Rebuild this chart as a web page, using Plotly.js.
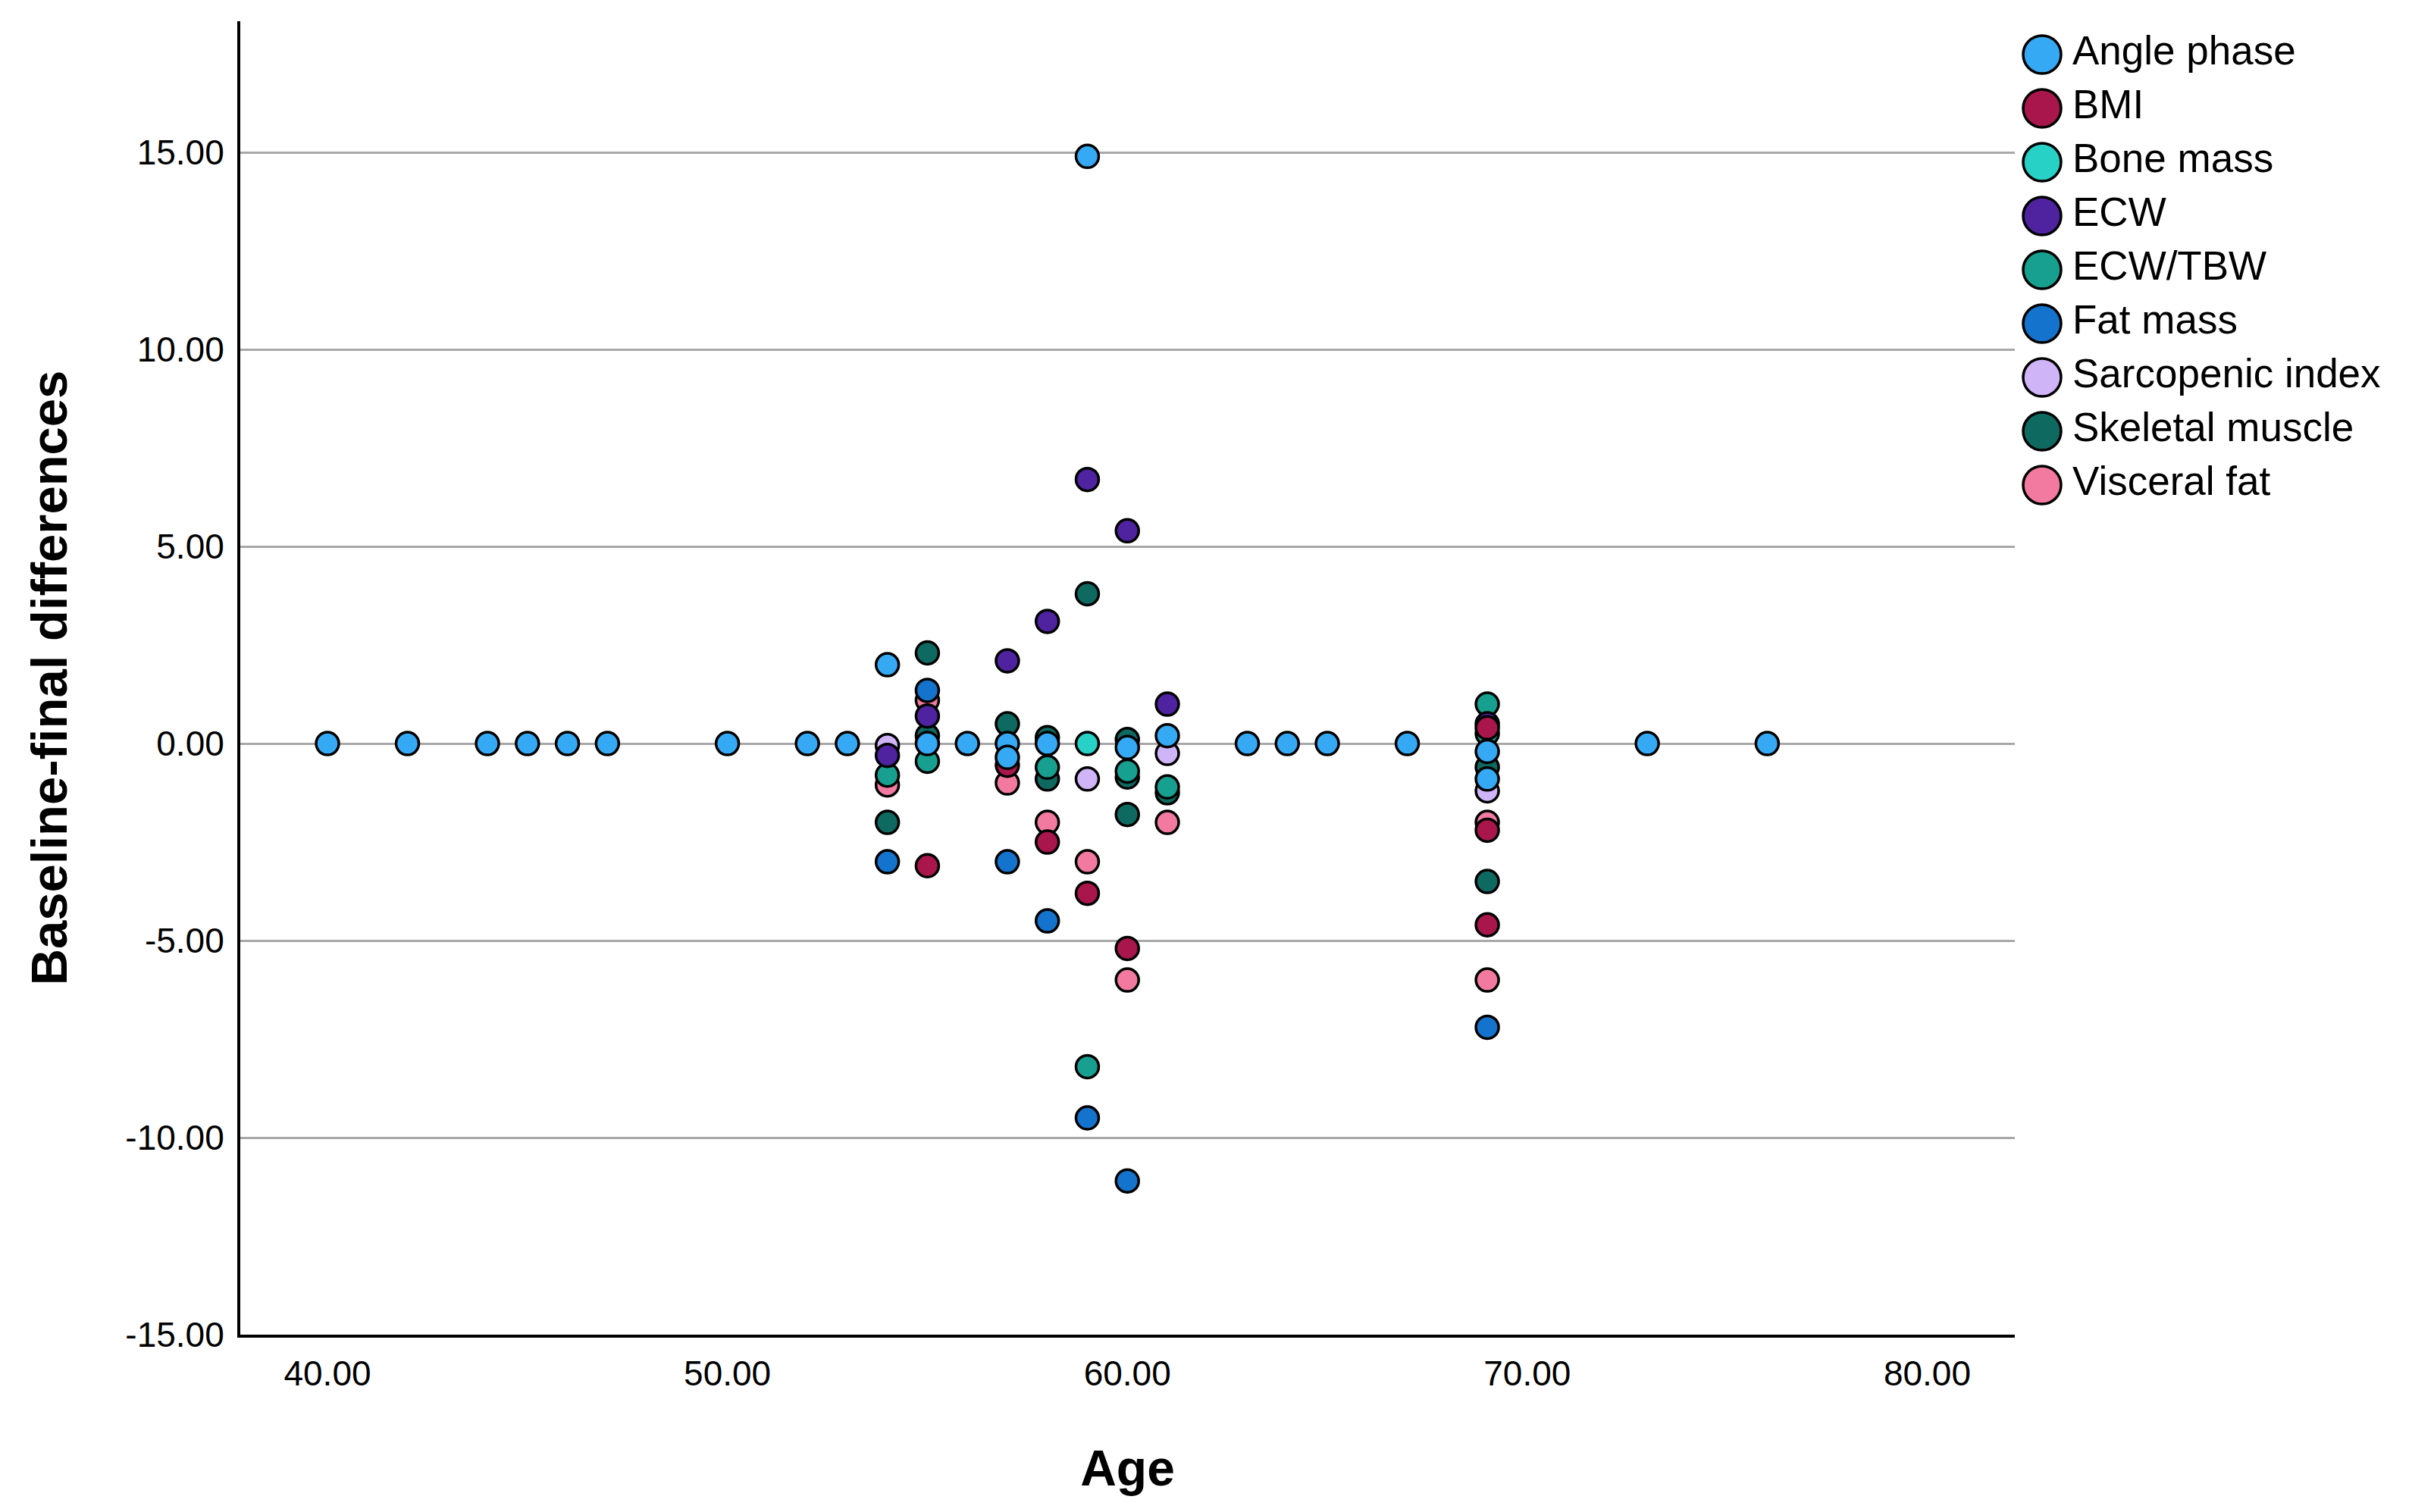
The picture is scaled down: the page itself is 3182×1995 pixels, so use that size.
<!DOCTYPE html>
<html>
<head>
<meta charset="utf-8">
<script src="https://cdn.plot.ly/plotly-3.0.1.min.js"></script>
<style>
html,body{margin:0;padding:0;background:#ffffff;}
#chart{width:3182px;height:1995px;}
</style>
</head>
<body>
<div id="chart"></div>
<script>
// ---------------- DATA ----------------
const categories = ['Angle phase','BMI','Bone mass','ECW','ECW/TBW','Fat mass','Sarcopenic index','Skeletal muscle','Visceral fat'];

const anglePhaseAge  = [40,42,44,45,46,47,50,52,53,54,55,56,57,57,58,59,60,61,63,64,65,67,69,69,73,76];
const anglePhaseDiff = [0,0,0,0,0,0,0,0,0,2.0,0,0,0,-0.35,0,14.9,-0.1,0.2,0,0,0,0,-0.2,-0.9,0,0];

const bmiAge  = [55,57,58,59,60,69,69,69];
const bmiDiff = [-3.1,-0.55,-2.5,-3.8,-5.2,0.4,-2.2,-4.6];

const boneMassAge  = [59];
const boneMassDiff = [0];

const ecwAge  = [54,55,57,58,59,60,61,69];
const ecwDiff = [-0.3,0.7,2.1,3.1,6.7,5.4,1.0,0.5];

const ecwTbwAge  = [54,55,58,59,60,61,69,69];
const ecwTbwDiff = [-0.8,-0.45,-0.6,-8.2,-0.7,-1.1,1.0,0.25];

const fatMassAge  = [54,55,57,58,59,60,69];
const fatMassDiff = [-3.0,1.35,-3.0,-4.5,-9.5,-11.1,-7.2];

const sarcopenicAge  = [54,59,61,69];
const sarcopenicDiff = [-0.05,-0.9,-0.25,-1.2];

const skeletalAge  = [54,55,55,57,58,58,59,60,60,60,61,69,69];
const skeletalDiff = [-2.0,2.3,0.2,0.5,0.15,-0.9,3.8,0.1,-0.85,-1.8,-1.25,-0.6,-3.5];

const visceralAge  = [54,55,57,58,59,60,61,69,69];
const visceralDiff = [-1.05,1.1,-1.0,-2.0,-3.0,-6.0,-2.0,-2.0,-6.0];

const xTickVals = [40,50,60,70,80];
const xTickText = ['40.00','50.00','60.00','70.00','80.00'];
const yTickVals = [-15,-10,-5,0,5,10,15];
const yTickText = ['-15.00','-10.00','-5.00','0.00','5.00','10.00','15.00'];

// ---------------- STYLE ----------------
const colors = {
  'Angle phase':'#36A9F4',
  'BMI':'#A8164C',
  'Bone mass':'#27D1C6',
  'ECW':'#4F22A0',
  'ECW/TBW':'#17A08F',
  'Fat mass':'#1473CC',
  'Sarcopenic index':'#CFB4F7',
  'Skeletal muscle':'#0E6A60',
  'Visceral fat':'#F27AA0'
};

const seriesData = [
  ['Angle phase', anglePhaseAge, anglePhaseDiff],
  ['BMI', bmiAge, bmiDiff],
  ['Bone mass', boneMassAge, boneMassDiff],
  ['ECW', ecwAge, ecwDiff],
  ['ECW/TBW', ecwTbwAge, ecwTbwDiff],
  ['Fat mass', fatMassAge, fatMassDiff],
  ['Sarcopenic index', sarcopenicAge, sarcopenicDiff],
  ['Skeletal muscle', skeletalAge, skeletalDiff],
  ['Visceral fat', visceralAge, visceralDiff]
];

const FONT = 'Liberation Sans, Arial, Helvetica, sans-serif';
const traces = [];
// first legend entry drawn on top -> add in reverse order
seriesData.slice().reverse().forEach(([name, xs, ys]) => {
  traces.push({
    type:'scatter', mode:'markers', name:name, x:xs, y:ys,
    xaxis:'x', yaxis:'y',
    marker:{size:30, color:colors[name], line:{color:'#000000', width:3.5}},
    hoverinfo:'skip', showlegend:false
  });
});

// custom legend drawn on a hidden secondary axis pair
traces.push({
  type:'scatter', mode:'markers', x:categories.map(() => 0), y:categories,
  xaxis:'x2', yaxis:'y2', cliponaxis:false,
  marker:{size:50, color:categories.map(c => colors[c]), line:{color:'#000000', width:3.5}},
  hoverinfo:'skip', showlegend:false
});
traces.push({
  type:'scatter', mode:'text', x:categories.map(() => 40), y:categories,
  text:categories, textposition:'middle right',
  textfont:{family:FONT, size:53, color:'#000000'},
  xaxis:'x2', yaxis:'y2', cliponaxis:false,
  hoverinfo:'skip', showlegend:false
});

const W = 3182, H = 1995;
const L = 317, T = 28, B = 234;
const plotRight = 2658;
const paperW = W - L;
const mainDomainEnd = (plotRight - L) / paperW;
const legDomainStart = (2662 - L) / paperW;
const legRowTop = 72, legRowStep = 71;

const layout = {
  width:W, height:H,
  margin:{l:L, r:0, t:T, b:B, pad:0},
  paper_bgcolor:'#ffffff', plot_bgcolor:'#ffffff',
  showlegend:false, hovermode:false,
  font:{family:FONT, color:'#000000'},
  xaxis:{
    domain:[0, mainDomainEnd], anchor:'y',
    range:[37.82, 82.19],
    showgrid:false, zeroline:false,
    showline:true, linecolor:'#000000', linewidth:4,
    ticks:'', tickvals:xTickVals, ticktext:xTickText,
    tickfont:{family:FONT, size:46, color:'#000000'},
    ticklabelstandoff:8,
    title:{text:'Age', font:{family:FONT, size:66, color:'#000000', weight:'bold'}, standoff:78}
  },
  yaxis:{
    domain:[0,1], anchor:'x',
    range:[-15, 18.33],
    showgrid:true, gridcolor:'#A8A8A8', gridwidth:3,
    zeroline:false,
    showline:true, linecolor:'#000000', linewidth:4,
    ticks:'', tickvals:yTickVals, ticktext:yTickText,
    tickfont:{family:FONT, size:46, color:'#000000'},
    ticklabelstandoff:8,
    title:{text:'Baseline-final differences', font:{family:FONT, size:67, color:'#000000', weight:'bold'}, standoff:56}
  },
  xaxis2:{
    domain:[legDomainStart, 1], anchor:'y2',
    range:[-(2694 - 2662), W - 2694],
    visible:false, fixedrange:true
  },
  yaxis2:{
    domain:[0,1], anchor:'x2',
    type:'category', categoryarray:categories, categoryorder:'array',
    range:[(H - B - legRowTop) / legRowStep, -(legRowTop - T) / legRowStep],
    visible:false, fixedrange:true
  }
};

Plotly.newPlot('chart', traces, layout, {displayModeBar:false, staticPlot:true});
</script>
</body>
</html>
